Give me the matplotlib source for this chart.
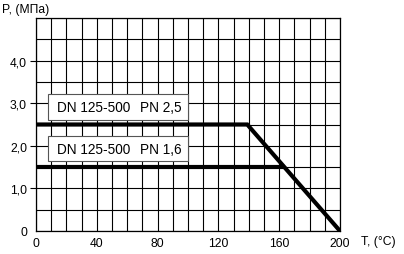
import matplotlib
matplotlib.use("Agg")
import matplotlib.pyplot as plt
from matplotlib.patches import Rectangle
from matplotlib.ticker import MultipleLocator

plt.rcParams['font.family'] = ['Liberation Sans', 'DejaVu Sans']

# Data
pn25_T = [0, 139, 200]
pn25_P = [2.5, 2.5, 0.0]
pn16_T = [0, 164]
pn16_P = [1.5, 1.5]
x_ticks = [0, 40, 80, 120, 160, 200]
y_ticks = [0, 1, 2, 3, 4]
y_labels = ["0", "1,0", "2,0", "3,0", "4,0"]
box_labels = [("DN 125-500", "PN 2,5"), ("DN 125-500", "PN 1,6")]
box_centers = [2.91, 1.93]

fig = plt.figure(figsize=(4.04, 2.55), dpi=100)
ax = fig.add_axes([36/404, 23/255, 304/404, 213/255])
ax.set_xlim(0, 200)
ax.set_ylim(0, 5)

ax.xaxis.set_minor_locator(MultipleLocator(10))
ax.yaxis.set_minor_locator(MultipleLocator(0.5))
ax.set_xticks(x_ticks)
ax.set_xticklabels([str(t) for t in x_ticks])
ax.set_yticks(y_ticks)
ax.set_yticklabels(y_labels)
ax.grid(which='both', color='black', linewidth=0.8)
ax.set_axisbelow(True)

ax.tick_params(axis='x', which='both', length=0, pad=4, labelsize=8.7)
ax.tick_params(axis='y', which='minor', length=0)
ax.tick_params(axis='y', which='major', length=4.5, width=0.8, pad=2, labelsize=8.7)
ax.yaxis.get_major_ticks()[0].tick1line.set_visible(False)
for s in ax.spines.values():
    s.set_linewidth(0.9)
    s.set_color('black')

ax.plot(pn25_T, pn25_P, color='black', linewidth=3.0, solid_capstyle='butt', solid_joinstyle='miter', zorder=3)
ax.plot(pn16_T, pn16_P, color='black', linewidth=3.0, solid_capstyle='butt', zorder=3)

for (dn, pn), yc in zip(box_labels, box_centers):
    h = 0.59
    ax.add_patch(Rectangle((8, yc - h/2), 91.7, h, facecolor='white', edgecolor='#555555', linewidth=0.8, zorder=4))
    ax.text(14, yc, dn, fontsize=9.8, va='center', ha='left', zorder=5)
    ax.text(68.3, yc, pn, fontsize=9.8, va='center', ha='left', zorder=5)

fig.text(2/404, 1 - 10/255, "P, (МПа)", fontsize=8.7, va='center', ha='left')
fig.text(361/404, 1 - 242/255, "T, (°C)", fontsize=8.7, va='center', ha='left')

fig.savefig("out.png", dpi=100)
